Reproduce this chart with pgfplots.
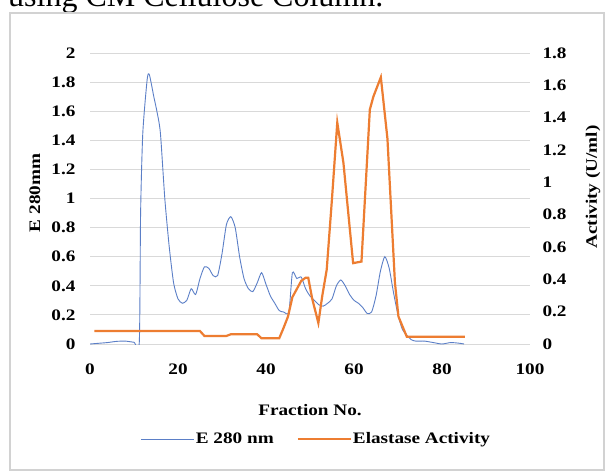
\documentclass[border=0pt]{standalone}
\usepackage{fontspec}
\setmainfont{Liberation Serif}[FakeStretch=1.2]
\newfontfamily\capfont{Liberation Serif}
\usepackage{pgfplots}
\pgfplotsset{compat=1.18}
\definecolor{eblue}{HTML}{5B7FC7}
\definecolor{eorange}{HTML}{ED7D31}
\newcommand{\lf}{\fontsize{16}{19}\selectfont\bfseries}
\begin{document}
\begin{tikzpicture}
\path[use as bounding box] (0pt,0pt) rectangle (613pt,472pt);
\clip (0pt,0pt) rectangle (613pt,472pt);
\fill[white] (0pt,0pt) rectangle (613pt,472pt);
\node[anchor=base west, inner sep=0pt, font=\capfont\fontsize{32}{36}\selectfont] at (8pt,465pt) {using CM Cellulose Column.};
\draw[gray!35, line width=1.2pt] (10pt,2pt) rectangle (604pt,459pt);
\begin{axis}[
  at={(90pt,128pt)}, anchor=south west, scale only axis,
  width=440pt, height=291pt,
  xmin=0, xmax=100, ymin=0, ymax=2,
  xtick={0,20,40,60,80,100},
  ytick={0,0.2,0.4,0.6,0.8,1,1.2,1.4,1.6,1.8,2},
  ymajorgrids, grid style={color=gray!30, line width=0.9pt},
  axis line style={draw=none}, tick style={draw=none},
  /pgf/number format/assume math mode=true,
  tick label style={font=\lf},
  yticklabel style={xshift=-11pt},
  xticklabel style={yshift=-16pt},
  label style={font=\lf},
  xlabel={Fraction No.},
  xlabel style={at={(axis description cs:0.5,-0.2268)}, anchor=center},
  ylabel={E 280mm},
  ylabel style={at={(axis description cs:-0.125,0.519)}, anchor=center},
  legend style={font=\lf, draw=none, fill=none, at={(axis description cs:0.5136,-0.3265)}, anchor=center, legend columns=2,
    nodes={inner xsep=1pt},
    /tikz/every odd column/.append style={column sep=0pt},
    /tikz/every even column/.append style={column sep=22pt}},
  legend image code/.code={\draw[#1] (0pt,0pt) -- (53pt,0pt);},
]
\addplot[eblue, line width=0.9pt, smooth, tension=0.4] coordinates {
(0,0) (2,0.005) (4,0.01) (6,0.018) (8,0.02) (10,0.012) (11.2,0.01) (11.5,0.9) (12,1.45) (13,1.82) (13.5,1.85) (14.5,1.7) (15.2,1.6) (16,1.45) (17,1.0) (18,0.67) (19,0.42) (20,0.31) (21,0.28) (22,0.3) (23,0.38) (24,0.34) (25,0.45) (26,0.53) (27,0.52) (28,0.47) (29,0.47) (30,0.62) (31,0.82) (32,0.875) (33,0.8) (34,0.6) (35,0.45) (36,0.38) (37,0.36) (38,0.42) (39,0.49) (40,0.41) (41,0.33) (42,0.28) (43,0.23) (44,0.22) (45.2,0.22) (46,0.49) (47,0.45) (48,0.46) (49,0.38) (50,0.33) (51,0.3) (52,0.27) (53,0.26) (54,0.28) (55,0.31) (56,0.4) (57,0.44) (58,0.4) (59,0.34) (60,0.3) (61,0.28) (62,0.25) (63,0.21) (64,0.22) (65,0.33) (66,0.5) (67,0.6) (68,0.52) (69,0.35) (70,0.2) (71,0.1) (72,0.06) (73,0.03) (74,0.02) (76,0.02) (78,0.01) (80,0.0) (82,0.01) (84,0.005) (85,0)
};
\addlegendentry{E 280 nm}
\addlegendimage{eorange, line width=2.2pt}
\addlegendentry{Elastase Activity}
\end{axis}
\begin{axis}[
  at={(90pt,128pt)}, anchor=south west, scale only axis,
  width=440pt, height=291pt,
  xmin=0, xmax=100, ymin=0, ymax=1.8,
  axis y line*=right, axis x line=none,
  ytick={0,0.2,0.4,0.6,0.8,1,1.2,1.4,1.6,1.8},
  axis line style={draw=none}, tick style={draw=none},
  /pgf/number format/assume math mode=true,
  tick label style={font=\lf},
  yticklabel style={xshift=9pt},
  label style={font=\lf},
  ylabel={Activity (U/ml)},
  ylabel style={at={(axis description cs:1.1432,0.5395)}, anchor=center},
]
\addplot[eorange, line width=2.2pt] coordinates {
(1,0.08) (25,0.08) (26,0.05) (31,0.05) (32,0.06) (38,0.06) (39,0.035) (43,0.035) (44,0.1) (45,0.17) (46,0.29) (47,0.34) (48,0.39) (49,0.41) (49.6,0.41) (50.5,0.28) (51.9,0.13) (52.8,0.3) (53.8,0.46) (55,0.9) (56.2,1.37) (57.6,1.12) (59.8,0.5) (61.7,0.51) (63.6,1.45) (64.4,1.53) (66.1,1.65) (67.6,1.27) (69.3,0.38) (70.1,0.17) (72,0.045) (85.2,0.045)
};
\end{axis}
\end{tikzpicture}
\end{document}
